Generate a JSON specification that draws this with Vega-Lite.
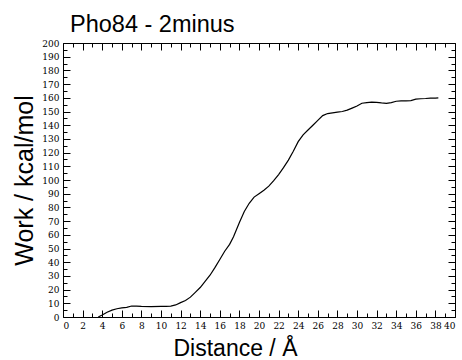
{
  "$schema": "https://vega.github.io/schema/vega-lite/v6.json",
  "width": 392,
  "height": 274,
  "autosize": {"type": "none"},
  "padding": {"left": 63, "top": 43, "right": 7, "bottom": 43},
  "background": "white",
  "config": {
    "view": {"stroke": "black", "strokeWidth": 1},
    "axis": {"grid": false, "domain": false, "tickColor": "black", "tickWidth": 1, "labelFont": "DejaVu Serif", "labelFontSize": 9, "labelColor": "black", "titleFont": "Liberation Sans", "titleFontWeight": "normal", "titleColor": "black"}
  },
  "title": {"text": "Pho84 - 2minus", "anchor": "start", "frame": "group", "font": "Liberation Sans", "fontSize": 23.5, "fontWeight": "normal", "color": "black", "baseline": "alphabetic", "offset": 11, "dx": 7, "dy": 27},
  "data": {"values": [
    {"d": 3.6, "w": 0}, {"d": 4.0, "w": 1.5}, {"d": 4.5, "w": 3.5}, {"d": 5.0, "w": 5}, {"d": 5.5, "w": 6},
    {"d": 6.0, "w": 6.6}, {"d": 6.5, "w": 7}, {"d": 7.0, "w": 8}, {"d": 7.5, "w": 8}, {"d": 8.0, "w": 7.7},
    {"d": 9.0, "w": 7.6}, {"d": 10.0, "w": 7.8}, {"d": 10.5, "w": 7.8}, {"d": 11.0, "w": 8}, {"d": 11.5, "w": 8.8},
    {"d": 12.0, "w": 10.5}, {"d": 12.5, "w": 12}, {"d": 13.0, "w": 14.5}, {"d": 13.5, "w": 18}, {"d": 14.0, "w": 21.5},
    {"d": 14.5, "w": 26}, {"d": 15.0, "w": 30.5}, {"d": 15.5, "w": 36}, {"d": 16.0, "w": 42}, {"d": 16.5, "w": 48},
    {"d": 17.0, "w": 53}, {"d": 17.4, "w": 58.6}, {"d": 18.0, "w": 69}, {"d": 18.5, "w": 77}, {"d": 19.0, "w": 83},
    {"d": 19.5, "w": 87.5}, {"d": 20.0, "w": 90}, {"d": 20.5, "w": 92.5}, {"d": 21.0, "w": 95.5}, {"d": 21.5, "w": 99.5},
    {"d": 22.0, "w": 104}, {"d": 22.5, "w": 109}, {"d": 23.0, "w": 114.5}, {"d": 23.5, "w": 121}, {"d": 24.0, "w": 128},
    {"d": 24.5, "w": 133}, {"d": 25.0, "w": 136.5}, {"d": 25.5, "w": 140}, {"d": 26.0, "w": 143.5}, {"d": 26.5, "w": 147},
    {"d": 27.0, "w": 148.5}, {"d": 27.5, "w": 149}, {"d": 28.0, "w": 149.5}, {"d": 28.5, "w": 150}, {"d": 29.0, "w": 151},
    {"d": 29.5, "w": 152.5}, {"d": 30.0, "w": 154}, {"d": 30.5, "w": 156}, {"d": 31.0, "w": 156.5}, {"d": 31.5, "w": 156.8},
    {"d": 32.0, "w": 156.7}, {"d": 32.5, "w": 156.3}, {"d": 33.0, "w": 156}, {"d": 33.5, "w": 156.5}, {"d": 34.0, "w": 157.5},
    {"d": 34.5, "w": 157.8}, {"d": 35.0, "w": 157.8}, {"d": 35.5, "w": 158}, {"d": 36.0, "w": 159}, {"d": 36.5, "w": 159.3},
    {"d": 37.0, "w": 159.5}, {"d": 37.5, "w": 159.8}, {"d": 38.0, "w": 159.8}, {"d": 38.3, "w": 160}
  ]},
  "resolve": {"axis": {"x": "independent", "y": "independent"}},
  "layer": [
    {
      "mark": {"type": "line", "color": "black", "strokeWidth": 1.2},
      "encoding": {
        "x": {"field": "d", "type": "quantitative", "scale": {"domain": [0, 40], "nice": false, "zero": false},
          "axis": {"orient": "bottom", "values": [0,2,4,6,8,10,12,14,16,18,20,22,24,26,28,30,32,34,36,38,40], "tickSize": -7, "labelPadding": 11, "title": "Distance / Å", "titleFontSize": 23, "titleBaseline": "alphabetic", "titleAlign": "center", "titleX": 172, "titleY": 38.5}},
        "y": {"field": "w", "type": "quantitative", "scale": {"domain": [0, 200], "nice": false},
          "axis": {"orient": "left", "values": [0,10,20,30,40,50,60,70,80,90,100,110,120,130,140,150,160,170,180,190,200], "tickSize": -7, "labelPadding": 11, "title": "Work / kcal/mol", "titleFontSize": 25, "titleBaseline": "alphabetic", "titleX": -31, "titleY": 137}}
      }
    },
    {
      "mark": {"type": "line", "opacity": 0},
      "encoding": {
        "x": {"field": "d", "type": "quantitative", "axis": {"orient": "bottom", "values": [1,3,5,7,9,11,13,15,17,19,21,23,25,27,29,31,33,35,37,39], "tickSize": -4, "labels": false, "title": null}},
        "y": {"field": "w", "type": "quantitative", "axis": {"orient": "left", "values": [5,15,25,35,45,55,65,75,85,95,105,115,125,135,145,155,165,175,185,195], "tickSize": -4, "labels": false, "title": null}}
      }
    },
    {
      "mark": {"type": "line", "opacity": 0},
      "encoding": {
        "x": {"field": "d", "type": "quantitative", "axis": {"orient": "top", "values": [0,2,4,6,8,10,12,14,16,18,20,22,24,26,28,30,32,34,36,38,40], "tickSize": -7, "labels": false, "title": null}},
        "y": {"field": "w", "type": "quantitative", "axis": {"orient": "right", "values": [0,10,20,30,40,50,60,70,80,90,100,110,120,130,140,150,160,170,180,190,200], "tickSize": -7, "labels": false, "title": null}}
      }
    },
    {
      "mark": {"type": "line", "opacity": 0},
      "encoding": {
        "x": {"field": "d", "type": "quantitative", "axis": {"orient": "top", "values": [1,3,5,7,9,11,13,15,17,19,21,23,25,27,29,31,33,35,37,39], "tickSize": -4, "labels": false, "title": null}},
        "y": {"field": "w", "type": "quantitative", "axis": {"orient": "right", "values": [5,15,25,35,45,55,65,75,85,95,105,115,125,135,145,155,165,175,185,195], "tickSize": -4, "labels": false, "title": null}}
      }
    }
  ]
}
